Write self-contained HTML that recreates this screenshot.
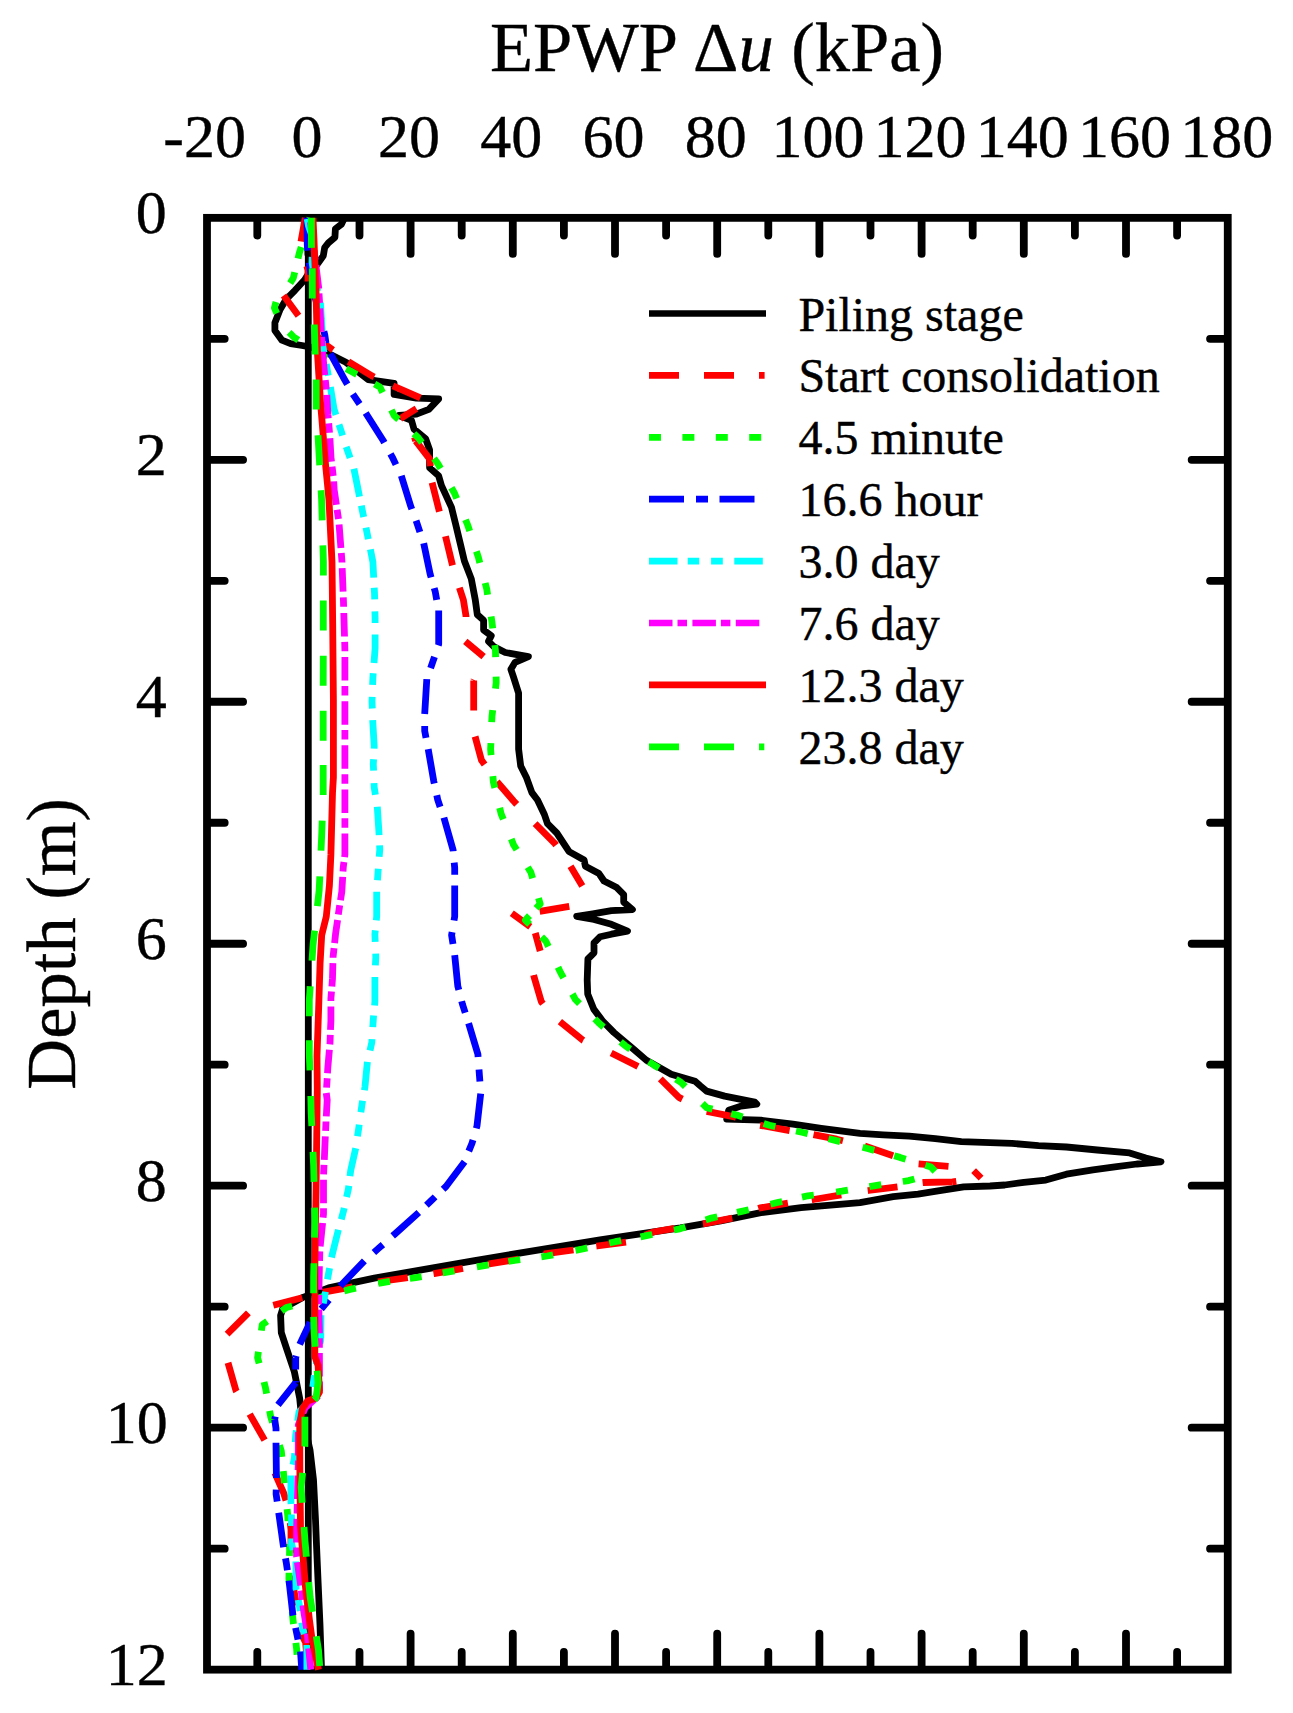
<!DOCTYPE html>
<html><head><meta charset="utf-8"><style>html,body{margin:0;padding:0;background:#fff;width:1293px;height:1713px;overflow:hidden}
body{position:relative;font-family:"Liberation Serif",serif}</style></head><body>
<svg width="1293" height="1713" viewBox="0 0 1293 1713" style="position:absolute;left:0;top:0">
<rect x="0" y="0" width="1293" height="1713" fill="#fff"/>
<rect x="207.0" y="217.85" width="1020.75" height="1451.80" fill="none" stroke="#000" stroke-width="7.8"/>
<path d="M257.30,221.75V235.55M257.30,1665.75V1651.95M308.40,221.75V253.95M308.40,1665.75V1633.55M359.50,221.75V235.55M359.50,1665.75V1651.95M410.60,221.75V253.95M410.60,1665.75V1633.55M461.70,221.75V235.55M461.70,1665.75V1651.95M512.80,221.75V253.95M512.80,1665.75V1633.55M563.90,221.75V235.55M563.90,1665.75V1651.95M615.00,221.75V253.95M615.00,1665.75V1633.55M666.10,221.75V235.55M666.10,1665.75V1651.95M717.20,221.75V253.95M717.20,1665.75V1633.55M768.30,221.75V235.55M768.30,1665.75V1651.95M819.40,221.75V253.95M819.40,1665.75V1633.55M870.50,221.75V235.55M870.50,1665.75V1651.95M921.60,221.75V253.95M921.60,1665.75V1633.55M972.70,221.75V235.55M972.70,1665.75V1651.95M1023.80,221.75V253.95M1023.80,1665.75V1633.55M1074.90,221.75V235.55M1074.90,1665.75V1651.95M1126.00,221.75V253.95M1126.00,1665.75V1633.55M1177.10,221.75V235.55M1177.10,1665.75V1651.95M210.90,338.83H224.70M1223.85,338.83H1210.05M210.90,459.81H243.10M1223.85,459.81H1191.65M210.90,580.79H224.70M1223.85,580.79H1210.05M210.90,701.77H243.10M1223.85,701.77H1191.65M210.90,822.75H224.70M1223.85,822.75H1210.05M210.90,943.73H243.10M1223.85,943.73H1191.65M210.90,1064.71H224.70M1223.85,1064.71H1210.05M210.90,1185.69H243.10M1223.85,1185.69H1191.65M210.90,1306.67H224.70M1223.85,1306.67H1210.05M210.90,1427.65H243.10M1223.85,1427.65H1191.65M210.90,1548.63H224.70M1223.85,1548.63H1210.05" stroke="#000" stroke-width="7.8" stroke-linecap="round" fill="none"/>
<path d="M308.3,217.85V1669.65" stroke="#000" stroke-width="6.8" fill="none"/>
<path d="M344.5,217.8 L341.4,224.3 L335.4,228.9 L334.9,237.3 L328.4,242.8 L324.7,247.5 L323.3,255.8 L318.7,262.3 L313.0,270.0 L307.0,276.0 L304.7,279.8 L295.0,290.3 L286.3,299.1 L280.1,309.6 L274.9,322.7 L274.9,330.6 L281.9,340.2 L290.6,343.7 L302.0,345.5 L310.0,347.0 L318.0,349.0 L326.1,352.4 L345.9,362.3 L368.2,379.6 L394.1,383.3 L394.1,394.4 L416.4,398.2 L438.7,398.8 L428.8,409.3 L416.4,414.2 L399.1,415.5 L411.5,420.4 L414.0,429.1 L425.7,438.9 L429.6,449.9 L429.6,467.7 L438.6,475.7 L441.5,485.6 L451.5,507.4 L455.4,523.3 L460.4,544.1 L464.4,561.0 L471.3,578.9 L475.3,600.0 L477.3,614.6 L483.6,620.2 L483.6,630.0 L491.3,635.7 L488.5,641.3 L494.1,646.9 L505.3,652.5 L528.4,656.7 L515.1,662.3 L510.9,669.3 L513.7,677.7 L518.6,693.1 L518.6,749.1 L520.7,766.0 L526.3,777.2 L531.9,792.6 L537.5,800.0 L544.4,814.5 L547.5,823.7 L556.8,833.0 L569.1,851.6 L584.1,860.0 L585.4,866.2 L599.0,873.6 L604.0,881.0 L616.3,887.2 L623.7,894.6 L623.7,902.1 L632.4,909.5 L611.4,910.7 L592.8,913.8 L576.7,916.3 L594.0,919.4 L611.4,924.3 L627.5,931.2 L611.4,934.2 L600.2,936.7 L594.0,942.9 L594.0,952.8 L587.9,959.0 L587.2,980.0 L587.7,993.9 L593.9,1009.4 L603.2,1021.7 L613.9,1032.5 L634.1,1049.6 L646.4,1060.3 L671.2,1074.3 L695.1,1081.2 L700.5,1086.0 L706.6,1091.1 L724.7,1096.1 L754.8,1102.1 L756.8,1104.1 L740.8,1106.1 L728.7,1110.2 L726.7,1119.2 L760.9,1120.2 L793.0,1124.2 L821.2,1128.3 L860.0,1133.3 L883.3,1134.8 L909.3,1136.1 L935.3,1138.6 L961.3,1141.7 L990.0,1142.6 L1012.0,1143.4 L1038.5,1145.6 L1066.4,1147.0 L1097.3,1150.0 L1129.6,1152.9 L1145.8,1158.1 L1161.0,1161.8 L1137.0,1164.0 L1114.9,1166.9 L1092.9,1169.8 L1066.4,1174.2 L1045.8,1180.1 L1023.8,1182.3 L1004.7,1185.0 L990.0,1186.0 L963.7,1186.8 L936.5,1191.2 L918.0,1194.2 L893.2,1196.7 L860.0,1202.7 L801.1,1207.7 L760.9,1212.7 L720.7,1220.8 L680.4,1227.8 L640.2,1233.8 L600.0,1239.9 L473.2,1260.8 L374.3,1278.1 L328.6,1287.9 L303.6,1297.1 L289.1,1305.0 L282.6,1308.9 L280.6,1315.5 L281.3,1332.6 L286.5,1348.4 L294.4,1372.0 L299.7,1398.3 L301.0,1411.5 L305.0,1428.0 L310.0,1450.0 L313.5,1480.0 L315.5,1520.0 L316.5,1545.0 L318.0,1580.0 L320.0,1625.0 L321.5,1669.7" stroke="#000" stroke-width="6.8" fill="none" stroke-linejoin="round"/>
<path d="M305.2,217.8 L301.0,241.5M306.8,266.0 L308.0,270.0 L308.0,281.5M283.6,295.6 L298.5,315.7M318.0,337.0 L326.0,345.0 L333.0,350.0M348.4,361.7 L348.4,361.7 L371.9,375.9 L374.2,377.0M392.9,385.8 L420.4,397.8M416.4,408.7 L400.3,418.6M414.4,437.2 L415.7,440.9M415.7,440.9 L429.6,458.8 L430.4,466.1M432.1,482.6 L439.4,511.7M445.5,536.2 L452.5,565.4M459.4,587.8 L463.4,600.0 L466.0,616.0 L466.0,617.0M465.3,641.3 L483.6,656.7M474.0,679.8 L473.7,680.5M473.7,680.5 L473.7,709.9 L473.7,710.5M475.1,736.5 L481.5,760.3 L484.6,764.6M497.0,781.7 L513.6,801.0 L516.7,804.3M535.1,823.7 L555.2,843.9 L556.1,845.1M570.5,866.2 L582.3,886.0M569.3,906.4 L539.7,911.4M511.8,913.2 L530.3,926.8M535.3,933.0 L540.2,951.0M533.6,975.1 L533.6,975.3M533.6,975.3 L541.3,1001.6 L542.9,1003.7M559.9,1021.7 L583.1,1040.3 L583.3,1040.4M611.2,1053.0 L635.2,1065.0 L638.0,1066.5M660.3,1078.9 L678.9,1097.4 L682.3,1099.1M706.7,1111.4 L734.6,1116.9 L736.1,1117.4M760.1,1125.3 L785.6,1129.9 L789.6,1130.6M813.5,1134.6 L836.7,1139.2 L842.9,1140.7M864.7,1146.0 L893.1,1155.7M918.6,1163.9 L948.5,1166.4M973.6,1170.7 L981.1,1178.2M956.3,1181.4 L952.6,1181.9M952.6,1181.9 L923.5,1182.5 L922.6,1182.6M897.5,1186.8 L868.5,1190.5 L867.7,1190.6M841.3,1194.9 L813.5,1199.5 L811.7,1199.8M787.9,1203.2 L760.1,1207.9 L758.4,1208.5M732.3,1218.1 L704.4,1223.7 L702.9,1223.9M674.2,1228.3 L653.4,1232.0 L645.1,1235.1M626.0,1242.1 L597.1,1246.0 L596.3,1246.1M573.5,1250.0 L544.5,1253.9 L543.8,1254.0M518.3,1259.2 L489.3,1263.9 L488.7,1264.0M463.0,1268.4 L434.1,1273.6 L433.5,1273.7M407.8,1277.6 L380.2,1281.5 L378.1,1281.9M352.6,1286.8 L323.7,1292.1 L323.1,1292.3M302.3,1297.7 L273.3,1305.3M248.4,1312.9 L227.1,1334.1M228.0,1362.8 L235.9,1390.4 L236.5,1391.5M249.7,1414.1 L264.6,1440.1M274.8,1472.8 L283.8,1493.4 L286.0,1500.6M290.3,1522.9 L291.0,1530.0 L291.0,1552.8M291.5,1575.6 L295.4,1598.7 L296.4,1605.2M300.5,1632.1 L305.6,1642.4 L307.2,1660.8" stroke="#f00" stroke-width="6.8" fill="none" stroke-linejoin="round"/>
<path d="M310.0,217.8 L307.5,226.5M301.2,247.0 L299.4,252.7 L298.0,258.5M294.7,272.2 L293.3,278.0 L290.1,283.1M276.0,302.0 L274.4,307.8 L276.8,313.3M289.1,332.4 L293.3,336.7 L298.3,340.1M316.7,352.0 L327.0,358.2M346.2,368.8 L351.5,371.6 L356.8,374.5M374.6,384.1 L379.9,387.0 L382.6,392.4M391.4,410.1 L394.1,415.5 L398.5,419.6M413.9,433.7 L418.3,437.8 L421.9,442.6M434.0,458.5 L437.6,463.3 L440.6,468.5M451.4,487.8 L454.4,493.0 L456.7,498.5M465.5,519.8 L467.8,525.3 L469.7,531.0M476.4,551.3 L478.3,557.0 L479.8,562.8M485.2,583.0 L486.7,588.8 L487.6,594.7M491.1,616.4 L492.0,622.3 L492.7,628.3M494.8,645.1 L495.5,651.1 L495.6,657.1M496.1,676.6 L496.2,682.6 L495.5,688.6M492.7,710.2 L492.0,716.2 L491.7,722.2M490.9,743.1 L490.6,749.1 L491.1,755.1M492.9,776.1 L493.4,782.1 L494.8,787.9M499.7,807.9 L501.1,813.7 L503.3,819.3M511.3,839.1 L513.5,844.7 L516.7,849.8M527.7,867.3 L530.9,872.4 L532.6,878.2M538.5,898.1 L540.2,903.9 L536.1,908.3M529.5,915.6 L525.4,920.0 L529.6,924.3M541.6,936.8 L545.8,941.1 L548.4,946.5M558.0,967.2 L560.6,972.6 L563.5,977.9M572.4,994.0 L575.3,999.3 L579.5,1003.6M594.8,1018.9 L599.0,1023.2 L603.6,1027.1M620.6,1041.8 L625.2,1045.7 L630.2,1049.1M648.8,1061.6 L653.8,1065.0 L658.9,1068.2M675.9,1079.2 L681.0,1082.4 L685.3,1086.6M702.4,1103.5 L706.7,1107.7 L712.5,1109.1M731.1,1113.7 L736.9,1115.1 L742.6,1116.9M763.7,1123.5 L769.4,1125.3 L775.3,1126.6M796.0,1131.0 L801.9,1132.3 L807.7,1133.7M828.5,1138.7 L834.3,1140.1 L840.1,1141.6M862.6,1147.3 L868.4,1148.8 L874.2,1150.4M894.2,1155.8 L900.0,1157.4 L905.7,1159.2M925.3,1165.2 L931.0,1167.0 L935.0,1171.4M914.5,1178.9 L908.7,1180.6 L902.8,1181.5M881.2,1184.7 L875.3,1185.6 L869.4,1186.6M847.9,1190.2 L842.0,1191.2 L836.1,1192.0M813.8,1195.0 L807.9,1195.8 L802.0,1197.1M782.2,1201.5 L776.3,1202.8 L770.5,1204.2M748.7,1209.7 L742.9,1211.1 L737.0,1212.4M717.3,1216.8 L711.4,1218.1 L705.7,1220.0M685.5,1226.9 L679.8,1228.8 L673.9,1230.0M652.3,1234.5 L646.4,1235.7 L640.5,1236.8M621.1,1240.6 L615.2,1241.7 L609.3,1243.0M587.3,1247.9 L581.4,1249.2 L575.5,1250.4M553.1,1254.8 L547.2,1256.0 L541.3,1256.8M520.2,1259.7 L514.3,1260.5 L508.4,1261.5M488.7,1264.8 L482.8,1265.8 L476.9,1266.8M454.5,1270.8 L448.6,1271.8 L442.7,1272.8M421.6,1276.6 L415.7,1277.6 L409.8,1278.5M390.0,1281.4 L384.1,1282.3 L378.2,1283.5M355.9,1288.2 L350.0,1289.4 L344.2,1291.0M323.9,1296.4 L318.0,1298.0 L312.4,1299.7M292.2,1305.9 L286.5,1307.6 L281.6,1311.1M267.1,1321.2 L262.2,1324.7 L261.4,1330.6M258.4,1351.7 L257.6,1357.6 L259.1,1363.4M264.0,1382.0 L265.5,1387.8 L266.6,1393.7M269.6,1410.8 L270.7,1416.7 L272.5,1422.4M279.5,1445.2 L281.3,1450.9 L281.9,1456.9M283.3,1471.2 L283.9,1477.2 L284.5,1483.2M287.1,1509.2 L287.7,1515.2 L288.0,1521.2M289.3,1543.9 L289.6,1549.9 L289.5,1555.9M289.0,1572.8 L288.9,1578.8 L289.5,1584.8M292.2,1612.0 L292.8,1618.0 L293.5,1624.0M295.9,1642.8 L296.6,1648.8 L297.0,1654.8" stroke="#0f0" stroke-width="6.8" fill="none" stroke-linejoin="round"/>
<path d="M307.0,217.8 L307.3,245.0 L307.9,250.6M309.2,262.6 L309.5,265.0 L310.8,274.5M312.4,285.9 L313.0,290.0 L320.0,315.0 L321.1,319.7M323.9,331.4 L324.8,335.0 L326.0,343.2M330.4,353.6 L344.6,379.6 L347.3,384.3M352.9,394.1 L353.9,395.7 L359.6,404.0M365.7,413.0 L383.0,440.2 L384.3,442.6M390.5,453.9 L392.4,457.3 L395.9,464.6M401.3,475.7 L410.8,506.4 L411.8,509.1M416.1,520.6 L416.7,522.3 L419.9,532.0M423.7,543.2 L430.1,573.9 L431.1,577.4M434.2,588.1 L435.2,591.5 L436.7,599.9M438.7,610.4 L438.7,644.1 L438.3,645.3M434.5,656.8 L433.1,660.9 L430.6,668.2M426.8,679.1 L424.7,714.0M424.7,726.0 L424.7,730.9 L426.0,737.9M428.2,749.1 L433.8,781.4 L434.3,783.6M436.8,795.3 L437.7,799.7 L440.1,806.8M443.9,817.6 L453.1,850.0 L453.2,851.3M454.2,862.7 L454.7,867.9 L454.7,874.7M454.7,885.6 L454.7,916.5 L454.0,920.5M452.1,932.2 L451.6,935.1 L453.0,944.0M454.7,955.2 L457.8,986.2 L458.8,989.9M461.7,1001.2 L462.4,1004.0 L465.2,1012.7M468.6,1023.3 L477.9,1054.2 L478.1,1056.9M479.0,1069.6 L479.4,1075.0 L479.9,1081.6M480.7,1093.7 L477.0,1125.9 L476.3,1128.4M473.0,1139.9 L472.0,1143.2 L468.8,1151.1M464.6,1161.8 L446.0,1186.5 L443.1,1189.3M435.1,1196.9 L432.4,1199.5 L426.4,1205.2M418.8,1212.5 L395.3,1233.6 L392.7,1235.9M382.9,1244.6 L379.2,1247.8 L373.9,1252.5M364.4,1260.8 L340.8,1285.5 L340.3,1286.1M328.9,1299.8 L328.5,1300.3 L321.2,1309.0M310.2,1322.1 L299.7,1344.4M296.2,1355.9 L295.7,1357.6M295.7,1357.6 L295.7,1366.8 L295.7,1369.6M295.7,1381.1 L295.7,1382.6M295.7,1382.6 L278.0,1404.9M275.3,1416.6 L274.7,1419.4M274.7,1419.4 L276.0,1428.6 L276.0,1431.3M276.0,1442.8 L276.0,1443.0M276.0,1443.0 L276.4,1475.9 L276.4,1478.0M276.2,1489.7 L276.1,1494.0 L277.2,1501.6M278.7,1512.7 L283.2,1544.8 L283.6,1547.3M285.5,1558.3 L286.4,1563.4 L287.4,1570.2M289.0,1580.7 L292.8,1614.1 L293.1,1615.5M295.6,1627.8 L296.6,1632.8 L298.0,1639.6M300.5,1651.4 L301.8,1669.7" stroke="#00f" stroke-width="6.8" fill="none" stroke-linejoin="round"/>
<path d="M307.2,218.8 L308.5,226.0 L312.0,236.0 L312.4,246.6M312.2,256.8 L312.0,262.0 L313.0,268.2M315.0,279.9 L315.0,280.0 L317.8,291.3M320.4,302.5 L322.2,330.0 L322.2,330.9M322.4,341.1 L322.4,343.7 L324.0,352.5M326.2,364.2 L328.3,375.7M330.4,387.0 L334.1,409.3 L335.9,414.9M339.0,424.6 L339.7,426.6 L342.6,435.5M346.2,446.8 L346.5,447.7 L350.1,457.9M353.9,468.7 L356.4,481.0 L359.5,496.6M361.4,505.7 L362.1,509.4 L363.7,517.0M366.0,527.6 L366.7,531.1 L368.3,539.1M370.4,549.3 L372.9,562.0 L373.7,577.6M374.2,587.8 L374.5,593.0 L374.7,599.3M374.9,611.3 L375.1,617.7 L375.1,623.0M375.1,634.6 L375.1,648.6 L374.0,663.1M373.2,673.3 L372.9,678.0 L372.6,684.8M372.2,696.8 L372.0,701.2 L372.3,708.5M372.7,720.1 L374.2,746.4 L374.1,748.6M373.6,759.2 L373.3,764.2 L373.6,770.7M374.0,783.2 L374.2,787.4 L375.4,794.8M377.3,806.7 L378.9,831.5 L379.1,835.1M379.6,845.3 L379.8,849.3 L379.2,856.8M378.3,868.7 L378.0,872.5 L377.5,880.3M376.7,891.8 L376.7,916.5 L376.3,920.3M375.3,930.4 L374.9,934.4 L375.2,941.9M375.7,953.7 L375.8,957.6 L375.4,965.4M374.9,976.9 L374.9,1001.6 L374.6,1005.4M373.6,1015.6 L373.3,1019.4 L372.8,1027.1M372.0,1039.1 L371.8,1042.6 L370.0,1050.6M367.4,1061.9 L365.0,1086.7 L364.4,1090.2M362.6,1100.8 L361.9,1104.9 L360.9,1112.2M359.2,1124.6 L358.7,1128.4 L357.5,1136.2M355.7,1148.2 L350.7,1170.4 L350.0,1176.1M348.8,1185.7 L348.3,1189.6 L346.6,1197.0M344.2,1208.0 L343.3,1211.9 L341.3,1219.3M338.4,1229.8 L332.2,1254.6 L331.6,1257.5M329.6,1268.1 L328.5,1273.8 L327.5,1279.4M325.4,1291.8 L324.8,1295.5 L323.3,1303.3M321.0,1315.2 L320.7,1340.5 L320.0,1343.6M318.0,1353.0 L316.2,1364.4M314.4,1375.4 L314.1,1377.3 L312.8,1387.0M311.3,1397.7 L311.0,1400.0 L299.0,1412.0 L297.7,1421.1M296.4,1430.6 L295.7,1435.2 L295.3,1442.1M294.7,1453.2 L294.4,1458.1 L293.0,1464.8M290.9,1475.4 L290.9,1502.4 L291.0,1503.9M291.4,1514.5 L291.5,1518.5 L291.5,1526.0M291.5,1538.4 L291.5,1543.5 L293.1,1549.9M296.0,1561.5 L296.0,1588.4 L296.3,1590.0M298.3,1599.8 L299.2,1604.5 L300.2,1611.1M301.9,1622.6 L302.4,1626.3 L304.3,1634.1M306.9,1645.0 L306.9,1669.7" stroke="#0ff" stroke-width="6.8" fill="none" stroke-linejoin="round"/>
<path d="M310.5,222.2 L313.4,245.5M314.1,250.4 L315.2,259.9M315.9,265.2 L318.7,288.0 L318.7,288.5M319.0,293.5 L319.6,303.0M319.9,308.4 L320.0,310.0 L321.2,331.9M321.6,336.9 L322.2,346.3M322.6,351.7 L324.2,369.7 L324.8,375.1M325.3,380.1 L326.3,389.5M326.8,394.9 L327.9,414.2 L328.3,418.4M328.7,423.4 L329.5,432.8M329.9,438.2 L331.0,457.6 L331.5,461.6M332.1,466.6 L333.2,476.0M333.7,481.4 L334.2,490.0 L336.4,504.7M337.1,509.7 L338.5,519.1M339.1,524.5 L340.9,547.9M341.3,553.1 L342.0,562.0 L342.0,562.6M342.2,568.2 L343.1,591.7M343.3,597.3 L343.5,602.2 L343.6,606.8M343.8,613.0 L344.5,636.5M344.7,641.8 L344.9,650.0 L344.9,651.3M344.9,657.1 L344.9,680.6M344.9,685.9 L344.9,695.4M344.9,701.2 L344.9,724.7M344.9,730.1 L344.9,739.6M344.9,745.3 L344.9,768.8M344.9,774.2 L344.9,783.7M344.9,789.5 L344.9,813.0M344.9,818.3 L344.9,827.8M344.9,833.6 L344.9,854.7 L344.6,857.1M343.9,862.0 L343.3,867.0 L343.0,871.5M342.7,876.9 L341.8,891.8 L340.5,900.3M339.7,905.2 L338.7,911.9 L338.3,914.6M337.6,919.9 L335.6,933.6 L334.6,943.2M334.0,948.2 L333.1,956.8 L333.1,957.7M332.9,963.1 L332.5,978.4 L331.9,986.5M331.5,991.5 L330.9,998.5 L330.9,1001.0M330.9,1006.4 L330.9,1021.0 L330.5,1029.9M330.3,1034.9 L330.0,1043.4 L329.9,1044.4M329.4,1049.7 L327.8,1068.0 L327.5,1073.2M327.2,1078.2 L326.6,1087.6M326.3,1093.0 L327.2,1100.0 L326.3,1116.4M326.0,1121.4 L326.0,1122.0 L325.6,1130.9M325.3,1136.3 L324.3,1159.8M324.0,1164.8 L323.6,1174.3M323.5,1179.7 L323.5,1203.2M323.5,1208.2 L323.5,1213.8 L323.1,1217.7M322.6,1223.0 L320.2,1246.4M319.8,1251.4 L319.6,1260.9M319.4,1266.3 L318.9,1289.8M318.8,1294.8 L318.6,1302.8 L318.6,1304.3M318.8,1309.7 L319.4,1330.0 L319.4,1333.2M319.4,1338.2 L319.4,1347.7M319.4,1353.1 L319.5,1376.6M319.5,1381.6 L319.5,1391.1M318.4,1396.0 L305.0,1408.0 L303.0,1413.1M301.2,1417.8 L298.3,1425.0 L298.3,1426.7M298.3,1432.1 L298.3,1455.6M298.3,1460.6 L298.3,1464.1 L298.1,1470.1M298.0,1475.5 L297.4,1499.0M297.3,1504.0 L297.1,1513.5M296.9,1518.9 L296.6,1531.9 L296.6,1542.4M296.6,1547.4 L296.6,1556.3 L296.7,1556.9M297.4,1562.2 L300.7,1585.5M301.3,1590.5 L302.4,1599.9M303.0,1605.3 L303.7,1610.9 L306.6,1628.5M307.2,1633.5 L308.2,1642.9M308.7,1648.3 L310.8,1669.7" stroke="#f0f" stroke-width="6.8" fill="none" stroke-linejoin="round"/>
<path d="M313.0,217.8 L314.0,240.0 L316.0,290.0 L317.4,352.0 L320.5,402.0 L325.5,464.0 L329.0,500.0 L332.0,562.0 L332.7,623.9 L333.4,700.0 L333.4,777.3 L332.5,792.8 L330.9,854.7 L329.4,885.6 L326.3,916.5 L321.7,935.1 L320.1,963.0 L318.6,1009.4 L317.0,1055.8 L317.3,1090.0 L316.1,1189.0 L314.9,1263.0 L314.9,1312.8 L314.8,1356.3 L318.1,1365.5 L319.5,1392.0 L316.0,1398.0 L307.6,1401.0 L302.3,1408.8 L299.7,1424.6 L299.9,1475.4 L300.5,1526.8 L303.0,1556.3 L305.6,1588.4 L309.5,1620.5 L312.1,1639.8 L318.5,1669.7" stroke="#f00" stroke-width="6.8" fill="none" stroke-linejoin="round"/>
<path d="M311.4,217.8 L311.4,245.0 L311.5,247.8M312.2,268.4 L312.3,270.0 L312.3,298.4M314.3,324.5 L314.3,325.0 L315.0,348.0 L315.2,354.5M316.2,379.6 L316.2,380.0 L316.2,409.0 L316.2,409.6M318.0,435.3 L319.7,465.3M321.1,490.3 L321.6,500.0 L322.2,520.3M322.9,545.4 L323.4,562.0 L323.4,575.4M323.3,600.5 L323.3,630.5M323.3,655.7 L323.2,685.7M323.2,710.8 L323.2,740.8M323.2,765.0 L323.2,794.0 L323.2,795.0M322.2,820.6 L321.7,835.0 L321.0,850.6M319.8,876.3 L319.2,890.0 L317.4,906.2M314.6,930.7 L313.0,945.0 L312.0,960.6M310.2,986.3 L309.3,1000.0 L309.3,1016.2M309.3,1040.3 L309.3,1055.0 L309.9,1070.3M310.8,1096.0 L311.1,1111.0 L311.8,1126.0M313.0,1151.9 L313.6,1165.0 L314.0,1181.9M314.6,1207.6 L314.9,1222.0 L314.5,1237.6M313.9,1263.3 L313.6,1277.0 L313.6,1293.3M313.6,1316.8 L314.1,1332.0 L315.3,1346.8M317.1,1370.8 L318.1,1383.0 L316.0,1398.0 L314.2,1399.8M304.9,1416.7 L304.9,1445.7 L304.8,1446.7M302.6,1472.9 L302.3,1476.0 L301.1,1487.0 L302.2,1502.8M304.0,1526.9 L305.0,1541.0 L306.4,1556.8M308.7,1582.1 L310.1,1597.0 L312.5,1611.9M316.3,1636.3 L318.5,1650.0 L319.7,1666.1" stroke="#0f0" stroke-width="6.8" fill="none" stroke-linejoin="round"/>
<g font-family="Liberation Serif" fill="#000" stroke="#000" stroke-width="0.4">
<text x="490" y="71.4" font-size="70.5">EPWP &#916;<tspan font-style="italic">u</tspan> (kPa)</text>
<text x="204.70" y="157.2" font-size="62" text-anchor="middle">-20</text>
<text x="306.90" y="157.2" font-size="62" text-anchor="middle">0</text>
<text x="409.10" y="157.2" font-size="62" text-anchor="middle">20</text>
<text x="511.30" y="157.2" font-size="62" text-anchor="middle">40</text>
<text x="613.50" y="157.2" font-size="62" text-anchor="middle">60</text>
<text x="715.70" y="157.2" font-size="62" text-anchor="middle">80</text>
<text x="817.90" y="157.2" font-size="62" text-anchor="middle">100</text>
<text x="920.10" y="157.2" font-size="62" text-anchor="middle">120</text>
<text x="1022.30" y="157.2" font-size="62" text-anchor="middle">140</text>
<text x="1124.50" y="157.2" font-size="62" text-anchor="middle">160</text>
<text x="1226.70" y="157.2" font-size="62" text-anchor="middle">180</text>
<text x="166.8" y="232.75" font-size="62" text-anchor="end">0</text>
<text x="166.8" y="474.71" font-size="62" text-anchor="end">2</text>
<text x="166.8" y="716.67" font-size="62" text-anchor="end">4</text>
<text x="166.8" y="958.63" font-size="62" text-anchor="end">6</text>
<text x="166.8" y="1200.59" font-size="62" text-anchor="end">8</text>
<text x="167.8" y="1442.55" font-size="62" text-anchor="end">10</text>
<text x="167.8" y="1684.51" font-size="62" text-anchor="end">12</text>
<text transform="translate(75.1,943.8) rotate(-90)" font-size="70.5" text-anchor="middle">Depth (m)</text>
<text x="798.4" y="330.50" font-size="48">Piling stage</text>
<text x="798.4" y="392.40" font-size="48">Start consolidation</text>
<text x="798.4" y="454.30" font-size="48">4.5 minute</text>
<text x="798.4" y="516.20" font-size="48">16.6 hour</text>
<text x="798.4" y="578.10" font-size="48">3.0 day</text>
<text x="798.4" y="640.00" font-size="48">7.6 day</text>
<text x="798.4" y="701.90" font-size="48">12.3 day</text>
<text x="798.4" y="763.80" font-size="48">23.8 day</text>
</g>
<path d="M649,313.50H766" stroke="#000" stroke-width="6.7" fill="none"/>
<path d="M649,375.40H764.6" stroke="#f00" stroke-width="6.7" stroke-dasharray="30 25" fill="none"/>
<path d="M649,437.30H766" stroke="#0f0" stroke-width="6.7" stroke-dasharray="12 21.4" fill="none"/>
<path d="M649,499.20H766" stroke="#00f" stroke-width="6.7" stroke-dasharray="35 12 12 11.5" fill="none"/>
<path d="M649,561.10H766" stroke="#0ff" stroke-width="6.7" stroke-dasharray="28.5 10.2 11.5 11.9 11.7 11.5" fill="none"/>
<path d="M649,623.00H761" stroke="#f0f" stroke-width="6.7" stroke-dasharray="23.5 5 9.5 5.4" fill="none"/>
<path d="M649,684.90H766" stroke="#f00" stroke-width="6.7" fill="none"/>
<path d="M649,746.80H764.3" stroke="#0f0" stroke-width="6.7" stroke-dasharray="30 25" fill="none"/>
</svg>
</body></html>
